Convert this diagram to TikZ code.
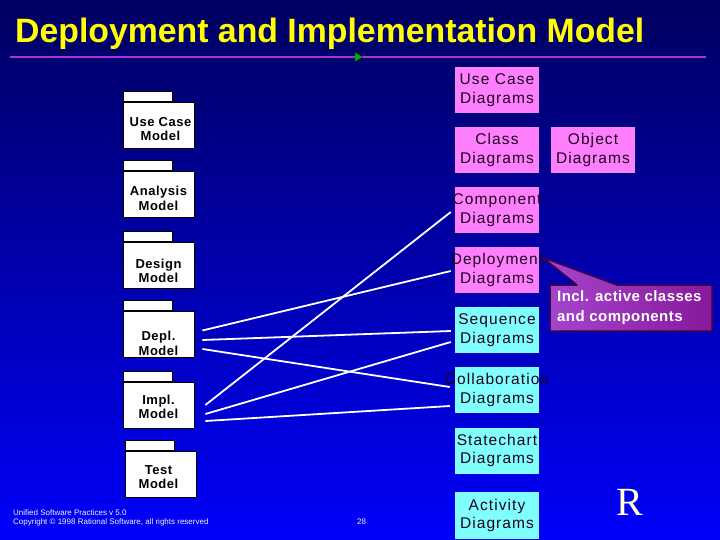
\documentclass[tikz,border=0pt]{standalone}
\usepackage{fontspec}
\setmainfont{Liberation Sans}
\newfontfamily\serifR{Liberation Serif}
\definecolor{bgtop}{RGB}{0,0,95}
\definecolor{bgmid}{RGB}{0,0,200}
\definecolor{bgbot}{RGB}{0,0,250}
\definecolor{boxpink}{RGB}{255,128,255}
\definecolor{boxcyan}{RGB}{128,255,255}
\definecolor{txtdark}{RGB}{30,0,30}
\definecolor{callA}{RGB}{165,70,205}
\definecolor{callB}{RGB}{135,25,155}
\definecolor{callbd}{RGB}{60,0,70}
\definecolor{ruleline}{RGB}{165,55,215}
\definecolor{ryellow}{RGB}{255,255,210}
\definecolor{titley}{RGB}{255,255,0}
\begin{document}
\begin{tikzpicture}[x=1pt,y=-1pt,
  pkg/.style={draw=black, line width=0.8pt, fill=white, minimum width=71pt, minimum height=46pt, inner sep=0pt},
  pkgtxt/.style={inner sep=0pt, align=center, font=\fontsize{13}{14.5}\selectfont\bfseries\addfontfeatures{LetterSpace=4}},
  pkgtab/.style={draw=black, line width=0.8pt, fill=white, minimum width=49pt, minimum height=10pt, inner sep=0pt},
  diag/.style={minimum width=84pt, minimum height=46pt, inner sep=0pt},
  diagtxt/.style={inner sep=0pt, align=center, font=\fontsize{15.5}{18.5}\selectfont\addfontfeatures{LetterSpace=7}, text=txtdark},
  pinkbox/.style={diag, fill=boxpink},
  cyanbox/.style={diag, fill=boxcyan},
  conn/.style={draw=white, line width=1.8pt},
  foot/.style={anchor=base west, inner sep=0pt, text=white!90!gray, font=\fontsize{8}{9}\selectfont},
]
\useasboundingbox (0,0) rectangle (720,540);
\fill[top color=bgtop, middle color=bgmid, bottom color=bgbot] (0,0) rectangle (720,540);

% title and rule
\node[anchor=base west, inner sep=0pt, text=titley, font=\fontsize{33.8}{36}\selectfont\bfseries] (title) at (15,43) {Deployment and Implementation Model};
\draw[ruleline, line width=2.6pt] (10,57) -- (706,57);
\filldraw[fill=green!70!black, draw=green!30!black, line width=0.4pt] (355,52.5) -- (362.5,57) -- (355,61.5) -- cycle;

% packages
\node[pkg] (uc) at (158.5,125) {};
\node[pkg] (an) at (158.5,194.5) {};
\node[pkg] (de) at (158.5,265) {};
\node[pkg] (dp) at (158.5,334.5) {};
\node[pkg] (im) at (158.5,405) {};
\node[pkg] (te) at (160.5,474) {};
\foreach \p in {uc,an,de,dp,im,te}
  \node[pkgtab, anchor=south west] (\p tab) at (\p.north west) {};
\node[pkgtxt] (uct) at ([shift={(2,4)}]uc.center) {Use Case\\Model};
\node[pkgtxt] (ant) at ([shift={(0,4)}]an.center) {Analysis\\Model};
\node[pkgtxt] (det) at ([shift={(0,6)}]de.center) {Design\\Model};
\node[pkgtxt] (dpt) at ([shift={(0,9)}]dp.center) {Depl.\\Model};
\node[pkgtxt] (imt) at ([shift={(0,2)}]im.center) {Impl.\\Model};
\node[pkgtxt] (tet) at ([shift={(-2,3)}]te.center) {Test\\Model};

% diagram boxes
\node[pinkbox] (ucd) at (497,90) {};
\node[pinkbox] (cls) at (497,150) {};
\node[pinkbox] (obj) at (593,150) {};
\node[pinkbox] (cmp) at (497,210) {};
\node[pinkbox] (dep) at (497,270) {};
\node[cyanbox] (seq) at (497,330) {};
\node[cyanbox] (col) at (497,390) {};
\node[cyanbox] (st) at (497,450.5) {};
\node[cyanbox, minimum height=47pt] (act) at (497,515.5) {};
\node[diagtxt] (ucdt) at (ucd.center) {Use Case\\Diagrams};
\node[diagtxt] (clst) at (cls.center) {Class\\Diagrams};
\node[diagtxt] (objt) at (obj.center) {Object\\Diagrams};
\node[diagtxt] (cmpt) at (cmp.center) {Component\\Diagrams};
\node[diagtxt] (dept) at (dep.center) {Deployment\\Diagrams};
\node[diagtxt] (seqt) at (seq.center) {Sequence\\Diagrams};
\node[diagtxt] (colt) at (col.center) {Collaboration\\Diagrams};
\node[diagtxt] (stt) at (st.center) {Statechart\\Diagrams};
\node[diagtxt] (actt) at (act.center) {Activity\\Diagrams};

% connectors
\draw[conn] ([shift={(8,-4)}]dp.east) -- ([shift={(-4,1)}]dep.west);
\draw[conn] ([shift={(8,5.5)}]dp.east) -- ([shift={(-4,1)}]seq.west);
\draw[conn] ([shift={(8,14.5)}]dp.east) -- ([shift={(-5,-3)}]col.west);
\draw[conn] ([shift={(11,0)}]im.east) -- ([shift={(-4,2)}]cmp.west);
\draw[conn] ([shift={(11,9)}]im.east) -- ([shift={(-4,12)}]seq.west);
\draw[conn] ([shift={(11,16)}]im.east) -- ([shift={(-5,16)}]col.west);

% callout
\draw[left color=callA, right color=callB, draw=callbd, line width=1.5pt, line join=round]
  (550,285) -- (577,285) -- ([shift={(4,11)}]dep.north east) -- (617,285) -- (712,285) -- (712,331) -- (550,331) -- cycle;
\node[anchor=north west, inner sep=0pt, align=left, text=white, font=\fontsize{15}{20}\selectfont\bfseries\addfontfeatures{LetterSpace=3}] (note) at (557,290) {Incl. active classes\\and components};

% footer
\node[foot] (foot1) at (13,515) {Unified Software Practices v 5.0};
\node[foot] (foot2) at (13,524) {Copyright \textcopyright{} 1998 Rational Software, all rights reserved};
\node[foot] (page) at (357,524) {28};
\node[anchor=base west, inner sep=0pt, text=ryellow, font=\serifR\fontsize{40}{40}\selectfont] (logo) at (616,515) {R};
\end{tikzpicture}
\end{document}
